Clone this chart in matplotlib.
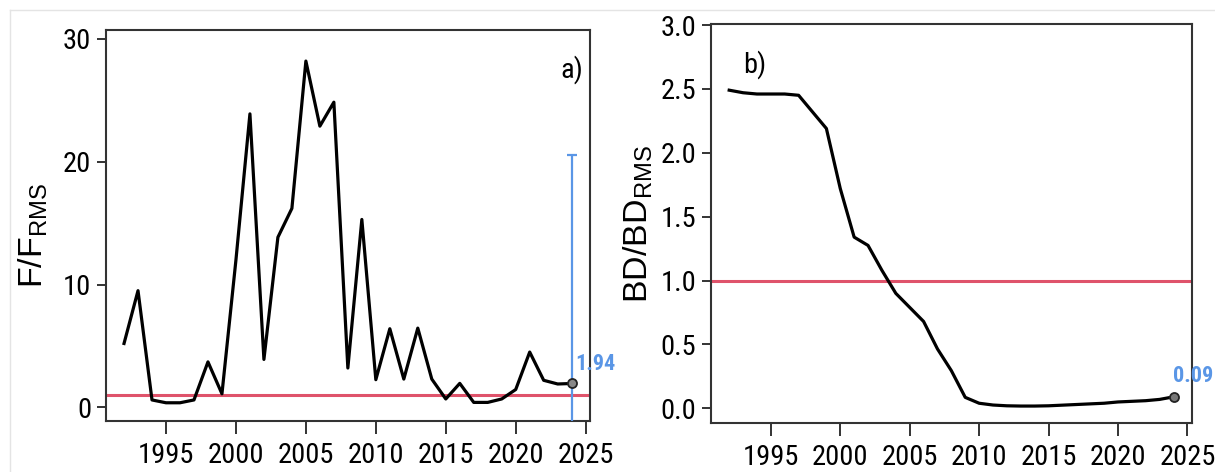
import os
import matplotlib
matplotlib.use("Agg")
import matplotlib.pyplot as plt
from matplotlib import font_manager
from matplotlib.font_manager import FontProperties
from matplotlib.lines import Line2D

# ---------------- data ----------------
years = list(range(1992, 2025))
f_ratio = [5.2, 9.5, 0.6, 0.37, 0.37, 0.6, 3.7, 1.1, 12.0, 23.9,
           3.9, 13.85, 16.2, 28.2, 22.9, 24.85, 3.2, 15.3, 2.25, 6.4,
           2.3, 6.45, 2.3, 0.68, 1.95, 0.4, 0.4, 0.68, 1.45, 4.5,
           2.2, 1.9, 1.94]
bd_ratio = [2.49, 2.47, 2.46, 2.46, 2.46, 2.45, 2.32, 2.19, 1.72, 1.34,
            1.275, 1.08, 0.90, 0.79, 0.68, 0.465, 0.295, 0.086, 0.04, 0.026,
            0.02, 0.018, 0.018, 0.02, 0.025, 0.03, 0.035, 0.04, 0.05, 0.055,
            0.06, 0.07, 0.09]
ref_level = 1.0
f_last_year = 2024
f_last = 1.94
f_ci_low = -2.0
f_ci_high = 20.55
bd_last = 0.09
f_label = "1.94"
bd_label = "0.09"
xticks = [1995, 2000, 2005, 2010, 2015, 2020, 2025]
f_yticks = [0, 10, 20, 30]
bd_yticks = [0.0, 0.5, 1.0, 1.5, 2.0, 2.5, 3.0]
bd_yticklabels = ["0.0", "0.5", "1.0", "1.5", "2.0", "2.5", "3.0"]

# ---------------- fonts ----------------
names = {f.name for f in font_manager.fontManager.ttflist}
label_font = "Liberation Sans" if "Liberation Sans" in names else "DejaVu Sans"


def find_narrow(bold=False):
    prefs = ["liberationsansnarrow", "arialnarrow", "robotocondensed",
             "opensanscondensed", "opensans_condensed", "notosanscondensed",
             "notosans-condensed", "dejavusanscondensed", "condensed", "narrow"]
    files = []
    for f in font_manager.fontManager.ttflist:
        base = os.path.basename(f.fname).lower().replace(" ", "")
        files.append((base, f))
    for key in prefs:
        for base, f in files:
            if key not in base:
                continue
            if "italic" in base or "oblique" in base or "light" in base \
                    or "thin" in base or "semi" in base or "medium" in base \
                    or "extra" in base or "black" in base or "mono" in base \
                    or "serif" in base.replace("sans", ""):
                continue
            is_bold = "bold" in base
            if is_bold == bold:
                return f.fname
    return None


narrow_reg = find_narrow(False)
narrow_bold = find_narrow(True) or narrow_reg


def tick_fp(size, bold=False):
    path = narrow_bold if bold else narrow_reg
    if path:
        return FontProperties(fname=path, size=size)
    return FontProperties(family=label_font, size=size,
                          weight="bold" if bold else "normal")


plt.rcParams["mathtext.fontset"] = "custom"
plt.rcParams["mathtext.rm"] = label_font
plt.rcParams["mathtext.it"] = label_font

RED = "#DF536B"
BLUE = "#5A96E6"
SPINE = "#333333"

fig = plt.figure(figsize=(12.15, 4.72), dpi=100)
W, H = 1215, 472


def axes_px(l, t, r, b):
    return [l / W, 1 - b / H, (r - l) / W, (b - t) / H]


axa = fig.add_axes(axes_px(105.7, 30, 590, 420.7))
axb = fig.add_axes(axes_px(711, 24.5, 1191.7, 423.3))

TS = 20.5
for ax in (axa, axb):
    for s in ax.spines.values():
        s.set_color(SPINE)
        s.set_linewidth(1.5)
    ax.set_xticks(xticks)
    ax.set_xticklabels([str(x) for x in xticks], fontproperties=tick_fp(TS))
    ax.tick_params(axis="x", length=9, width=1.4, color=SPINE, pad=6)
    ax.tick_params(axis="y", length=6.5, width=1.4, color=SPINE, pad=4)
    ax.set_xlim(1990.69, 2025.31)

# ---- panel a ----
axa.axhline(ref_level, color=RED, lw=2.2, zorder=2)
axa.plot(years, f_ratio, color="black", lw=2.3, zorder=3)
axa.errorbar([f_last_year], [f_last],
             yerr=[[f_last - f_ci_low], [f_ci_high - f_last]],
             fmt="none", ecolor=BLUE, elinewidth=1.6, capsize=3.5, capthick=1.6, zorder=4)
axa.plot([f_last_year], [f_last], "o", ms=6.5, mfc="#888888", mec="#222222", mew=1.3, zorder=5)
axa.set_ylim(-1.09, 30.73)
axa.set_yticks(f_yticks)
axa.set_yticklabels([str(v) for v in f_yticks], fontproperties=tick_fp(TS))
axa.text(2025.7, 3.53, f_label, color=BLUE, fontproperties=tick_fp(16, bold=True),
         ha="center", va="center", clip_on=False)
axa.text(2024.0, 27.5, "a)", fontproperties=tick_fp(TS), ha="center", va="center")
axa.set_ylabel(r"F/F$_{\mathrm{RMS}}$", fontsize=24.5, fontfamily=label_font)
axa.yaxis.label.set_verticalalignment("center")
axa.yaxis.set_label_coords(-0.150, 0.473)

# ---- panel b ----
axb.axhline(ref_level, color=RED, lw=2.2, zorder=2)
axb.plot(years, bd_ratio, color="black", lw=2.3, zorder=3)
axb.plot([years[-1]], [bd_last], "o", ms=6.5, mfc="#777777", mec="#222222", mew=1.3, zorder=5)
axb.set_ylim(-0.117, 3.004)
axb.set_yticks(bd_yticks)
axb.set_yticklabels(bd_yticklabels, fontproperties=tick_fp(TS))
axb.text(2025.4, 0.25, bd_label, color=BLUE, fontproperties=tick_fp(16, bold=True),
         ha="center", va="center", clip_on=False)
axb.text(1993.85, 2.69, "b)", fontproperties=tick_fp(TS), ha="center", va="center")
axb.set_ylabel(r"BD/BD$_{\mathrm{RMS}}$", fontsize=24.5, fontfamily=label_font)
axb.yaxis.label.set_verticalalignment("center")
axb.yaxis.set_label_coords(-0.152, 0.50)

# faint page border of the screenshot
fig.add_artist(Line2D([10 / W, 1.0], [1 - 10 / H, 1 - 10 / H], color="#e4e4e4", lw=1))
fig.add_artist(Line2D([10 / W, 10 / W], [0, 1 - 10 / H], color="#e4e4e4", lw=1))

fig.savefig("out.png", dpi=100)
